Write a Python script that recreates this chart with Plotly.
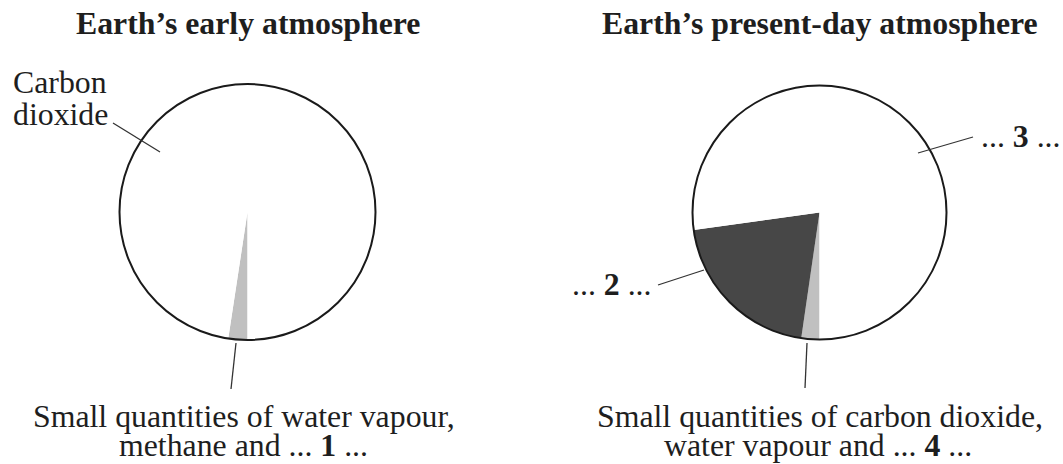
import plotly.graph_objects as go

W, H = 1063, 464

# ---- data ----
early_labels = ["Water vapour, methane and ... 1 ...", "Carbon dioxide"]
early_values = [2.4, 97.6]
early_colors = ["#c0c0c0", "#ffffff"]

present_labels = ["Carbon dioxide, water vapour and ... 4 ...", "... 2 ...", "... 3 ..."]
present_values = [2.3, 20.5, 77.2]
present_colors = ["#c0c0c0", "#474747", "#ffffff"]

titles = ["Earth\u2019s early atmosphere", "Earth\u2019s present-day atmosphere"]
early_caption = ["Small quantities of water vapour,", "methane and ... <b>1</b> ..."]
present_caption = ["Small quantities of carbon dioxide,", "water vapour and ... <b>4</b> ..."]

FONT = "Liberation Serif"
FS = 31.8
TXT = "#1e1e1e"


def px(x):
    return x / W


def py(y):
    return 1 - y / H


def domain(cx, cy, r):
    return dict(x=[px(cx - r), px(cx + r)], y=[py(cy + r), py(cy - r)])


left_dom = domain(247.5, 212, 128)
right_dom = domain(819.5, 212.5, 127)

fig = go.Figure()

for labels, values, colors, dom in [
    (early_labels, early_values, early_colors, left_dom),
    (present_labels, present_values, present_colors, right_dom),
]:
    fig.add_trace(go.Pie(
        labels=labels, values=values, sort=False,
        direction="clockwise", rotation=180,
        marker=dict(colors=colors, line=dict(width=0)),
        textinfo="none", hoverinfo="label+percent",
        domain=dom, showlegend=False,
    ))
    # outline of the whole pie
    fig.add_trace(go.Pie(
        labels=["total"], values=[sum(values)], sort=False,
        marker=dict(colors=["rgba(0,0,0,0)"], line=dict(width=2, color="#1a1a1a")),
        textinfo="none", hoverinfo="skip",
        domain=dom, showlegend=False,
    ))

annotations = []


def ann(text, x, y, xanchor="center", bold=False):
    annotations.append(dict(
        text=f"<b>{text}</b>" if bold else text,
        x=px(x), y=py(y), xref="paper", yref="paper",
        xanchor=xanchor, yanchor="middle", showarrow=False, borderpad=0,
        font=dict(family=FONT, size=FS, color=TXT),
    ))


ann(titles[0], 248, 24, bold=True)
ann(titles[1], 820, 24, bold=True)
ann("Carbon", 12, 82, xanchor="left")
ann("dioxide", 12, 114, xanchor="left")
ann("... <b>3</b> ...", 980, 136, xanchor="left")
ann("... <b>2</b> ...", 571, 284, xanchor="left")
ann(early_caption[0], 244, 416)
ann(early_caption[1], 243, 445)
ann(present_caption[0], 820, 416)
ann(present_caption[1], 818, 445)

leaders = [
    ((113, 123), (160, 152)),
    ((918, 153), (973, 137)),
    ((658, 285), (704, 270)),
    ((236, 343), (231, 389)),
    ((807, 343), (805, 388)),
]
shapes = [
    dict(type="line", xref="paper", yref="paper",
         x0=px(a[0]), y0=py(a[1]), x1=px(b[0]), y1=py(b[1]),
         line=dict(color="#333333", width=1.3))
    for a, b in leaders
]

fig.update_layout(
    width=W, height=H,
    margin=dict(l=0, r=0, t=0, b=0),
    paper_bgcolor="white", plot_bgcolor="white",
    annotations=annotations, shapes=shapes,
)

fig.write_html(
    "out.html",
    config={"displayModeBar": False},
    post_script="document.body.style.margin='0';document.body.style.overflow='hidden';",
)
